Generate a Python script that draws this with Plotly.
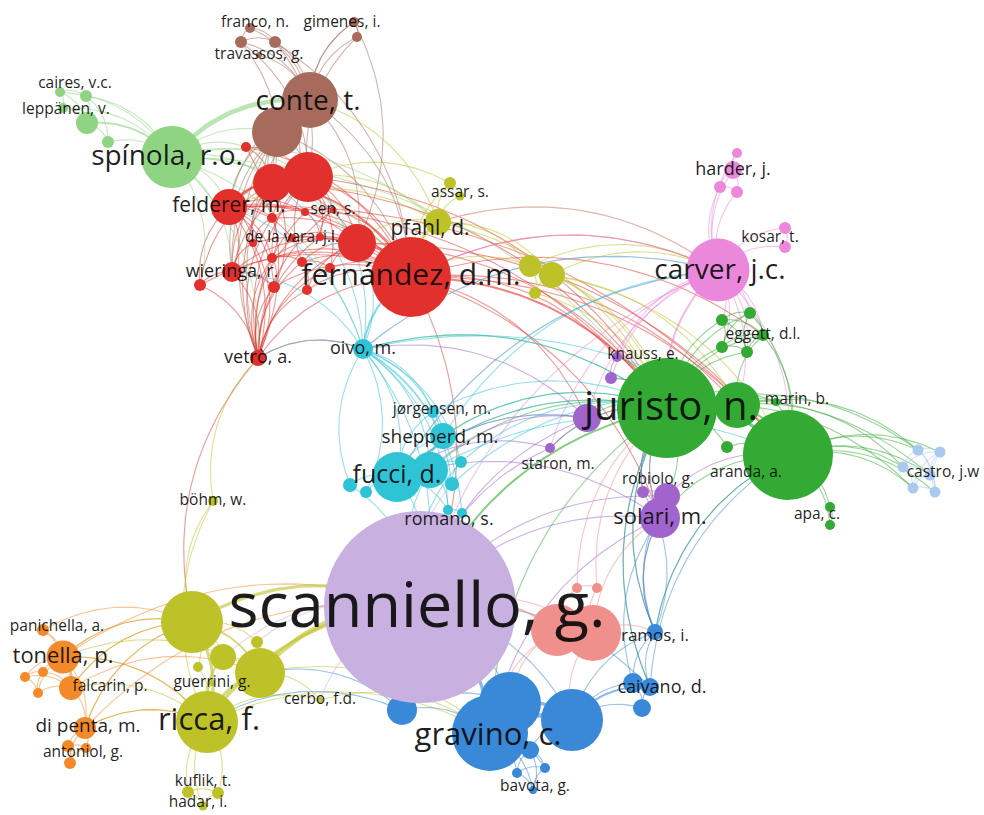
import numpy as np
import plotly.graph_objects as go

# ------------------------------------------------------------------
# DATA  (VOSviewer-style co-authorship map: node map coordinates,
#        node weight, cluster, and co-authorship links)
# ------------------------------------------------------------------
node_ids = [
    "fern", "feld", "sen", "dlv", "wier", "vetro", "r1", "r2", "r3", "r4", "r5", "r6", "r7", "r8", "r9", "r10", "r11", "r12", "r13", "r14",
    "conte", "b1", "trav", "tr1", "tr2", "franco", "gim", "gim2",
    "spin", "caires", "lg1", "lepp", "lg2", "lg3",
    "pfahl", "assar", "as2", "o1", "o2", "o3", "ricca", "y1", "y2", "y3", "y4", "y5", "guerr", "cerbo", "bohm", "kuflik", "ku2", "hadar",
    "tonella", "panich", "falc", "or1", "or2", "or3", "dipenta", "anton", "an2", "an3",
    "oivo", "fucci", "c1", "shep", "jorg", "c2", "c3", "c4", "c5", "romano", "c6",
    "solari", "p1", "robiolo", "p2", "knauss", "p3", "staron",
    "juristo", "g1", "g2", "marin", "aranda", "apa", "apa2", "egg", "e1", "e2", "e3", "e4",
    "carver", "harder", "h1", "h2", "h3", "kosar", "k2",
    "castro", "cb1", "cb2", "cb3", "cb4", "cb5",
    "s1", "s2", "s3", "s4",
    "gravino", "bl1", "bl2", "bl3", "bl4", "ramos", "caivano", "ca2", "ca3", "bavota", "bv2", "bv3",
    "scan",
]

node_x = [
    411, 229, 333, 292, 232, 258, 308, 272, 357, 246, 200, 272, 272, 302, 274, 307, 330, 253, 320, 305,
    310, 277, 259, 241, 275, 250, 354, 357,
    172, 60, 86, 63, 87, 108,
    438, 450, 460, 530, 552, 535, 207, 192, 260, 223, 257, 198, 212, 320, 213, 188, 218, 203,
    63, 43, 71, 25, 43, 38, 85, 68, 70, 86,
    363, 397, 430, 443, 433, 350, 366, 452, 461, 448, 462,
    660, 667, 643, 587, 617, 611, 550,
    667, 737, 788, 776, 727, 830, 830, 763, 722, 750, 722, 747,
    718, 733, 737, 720, 737, 785, 785,
    930, 918, 940, 903, 913, 935,
    557, 593, 577, 597,
    490, 510, 572, 402, 530, 655, 650, 633, 642, 517, 545, 533,
    420,
]

node_y = [
    277, 207, 210, 238, 272, 358, 177, 183, 243, 147, 285, 218, 258, 262, 287, 290, 268, 243, 237, 212,
    100, 132, 55, 42, 42, 28, 22, 37,
    157, 92, 96, 108, 123, 142,
    222, 183, 196, 266, 275, 293, 722, 622, 673, 657, 642, 667, 683, 700, 501, 792, 793, 806,
    657, 630, 688, 677, 672, 693, 728, 746, 763, 748,
    349, 477, 470, 436, 412, 485, 492, 484, 462, 510, 513,
    518, 496, 492, 418, 357, 378, 448,
    408, 405, 455, 402, 447, 507, 525, 335, 320, 313, 347, 352,
    270, 170, 153, 187, 192, 228, 247,
    475, 450, 452, 467, 488, 492,
    630, 633, 588, 588,
    733, 703, 720, 710, 750, 632, 687, 683, 708, 773, 768, 790,
    607,
]

node_weight = [
    80, 36, 7, 8, 20, 16, 50, 38, 38, 10, 12, 10, 10, 10, 12, 10, 10, 8, 8, 8,
    56, 50, 6, 12, 12, 10, 10, 10,
    62, 10, 12, 10, 22, 12,
    26, 12, 9, 22, 26, 12, 62, 62, 50, 26, 12, 10, 6, 6, 10, 12, 12, 9,
    33, 12, 24, 10, 10, 10, 22, 12, 12, 10,
    20, 50, 36, 26, 12, 14, 12, 14, 12, 10, 10,
    40, 26, 12, 28, 10, 12, 10,
    100, 46, 90, 8, 12, 10, 10, 12, 12, 12, 12, 12,
    63, 18, 10, 12, 12, 12, 12,
    11, 11, 11, 11, 11, 11,
    52, 56, 10, 10,
    76, 62, 62, 30, 18, 16, 18, 20, 18, 10, 10, 8,
    192,
]

node_cluster = (
    ["R"] * 20 + ["N"] * 8 + ["L"] * 6 + ["O"] * 18 + ["A"] * 10 + ["C"] * 11 +
    ["P"] * 7 + ["G"] * 12 + ["K"] * 7 + ["B"] * 6 + ["S"] * 4 + ["U"] * 12 + ["V"]
)

node_labels = {
    "fern": "fernández, d.m.", "feld": "felderer, m.", "sen": "sen, s.", "dlv": "de la vara, j.l.",
    "wier": "wieringa, r.", "vetro": "vetrò, a.", "conte": "conte, t.", "trav": "travassos, g.",
    "franco": "franco, n.", "gim": "gimenes, i.", "spin": "spínola, r.o.", "caires": "caires, v.c.",
    "lepp": "leppänen, v.", "pfahl": "pfahl, d.", "assar": "assar, s.", "ricca": "ricca, f.",
    "guerr": "guerrini, g.", "cerbo": "cerbo, f.d.", "bohm": "böhm, w.", "kuflik": "kuflik, t.",
    "hadar": "hadar, i.", "tonella": "tonella, p.", "panich": "panichella, a.", "falc": "falcarin, p.",
    "dipenta": "di penta, m.", "anton": "antoniol, g.", "oivo": "oivo, m.", "fucci": "fucci, d.",
    "shep": "shepperd, m.", "jorg": "jørgensen, m.", "romano": "romano, s.", "solari": "solari, m.",
    "robiolo": "robiolo, g.", "knauss": "knauss, e.", "staron": "staron, m.", "juristo": "juristo, n.",
    "marin": "marin, b.", "aranda": "aranda, a.", "apa": "apa, c.", "egg": "eggett, d.l.",
    "carver": "carver, j.c.", "harder": "harder, j.", "kosar": "kosar, t.", "castro": "castro, j.w",
    "gravino": "gravino, c.", "ramos": "ramos, i.", "caivano": "caivano, d.", "bavota": "bavota, g.",
    "scan": "scanniello, g.",
}

links = """
fern: feld r1 r2*2 r3*2 wier vetro r5 r6 r7 r8 r9 r10 r11 r12 r13 r14 sen dlv r4 juristo*2 g1 g2 carver p2 knauss egg solari scan
feld: r1*2 r2*2 r3 wier vetro r5 r6 r7 r9 r12 r14 dlv juristo g2
r1: r2*2 r3 wier vetro r6 r7 r8 r11 r13 sen r4 juristo
r2: r3 wier vetro r9 r12 r4 r5 juristo
r3: wier vetro r7 r8 r10 r11 dlv juristo g2
wier: vetro r5 r9 r12
vetro: r5 r6 r7 r8 r9 r10 r11 r12 r13 r14 sen dlv r4 y1 oivo
r6: r7 r12 r14
r7: r9 r8
r8: r10 r11
r13: r14 sen
conte: b1*3 r1 r2 fern feld r3 trav tr1 tr2 franco gim gim2 vetro wier
b1: r1 r2 feld fern vetro wier r6
tr1: tr2 franco r1 r2
tr2: franco r1 fern
gim: gim2 r3 conte
gim2: r1
spin: conte*4 b1 r1 r2 feld fern r3 wier vetro r5 r4 caires lg1 lepp lg2*2 lg3 juristo pfahl oivo
caires: lg1 lepp lg2
lg1: lg2 lg3
lepp: lg2
lg2: lg3
pfahl: fern*3 r1 r3 assar as2 o1 o2 conte feld juristo carver
assar: as2 fern r1
o1: o2*2 o3 fern juristo carver
o2: o3 carver juristo g1 g2
o3: juristo
carver: juristo*2 g1 g2 egg e1 e2 e3 e4 harder h1 h2 h3 kosar k2 fern p2 knauss p3 staron oivo fucci pfahl scan
harder: h1 h2 h3
h2: h3
kosar: k2
juristo: g1*3 g2*3 marin aranda egg e1 e2 e3 e4 castro cb1 cb4 p2 p3 knauss staron solari robiolo p1 scan*2 fucci c1 shep oivo ramos caivano gravino
g1: g2*2 marin egg cb1 cb3
g2: marin aranda apa apa2 egg e2 castro cb1 cb2 cb3 cb4 cb5 solari ramos
apa: apa2
egg: e1 e2 e3 e4
e1: e2 e3 e4
e2: e3 e4
e3: e4
castro: cb1 cb2 cb3 cb4 cb5
cb1: cb2 cb3 cb5
cb2: cb3 cb4 cb5
cb3: cb4
cb4: cb5
oivo: fucci c1 shep jorg c2 c3 c4 c5 romano c6 fern*2 r3 r1 feld vetro wier r2 scan juristo g2 carver
fucci: c1*2 shep jorg c2 c3 romano scan juristo carver p2
c1: shep c4 c5 romano scan g2
shep: jorg juristo carver
jorg: juristo
c4: c5 g1
c5: juristo scan
c2: scan
romano: c6
solari: p1*2 robiolo scan juristo fucci gravino ramos
p1: robiolo scan g2
p2: scan fucci c1 oivo
knauss: p3
p3: juristo
staron: scan juristo fucci
robiolo: juristo
gravino: bl1*4 bl2*4 bl3 bl4 bavota bv2 bv3 scan*3
bl1: bl2*3 bl3 scan
bl2: bl4 scan
bl4: bavota bv2 bv3
bavota: bv2 bv3
bv2: bv3
ramos: bl2 caivano ca2 juristo solari g2 p1 robiolo
caivano: ca2 ca3 bl2*2 g2 scan juristo
ca2: ca3 bl2 solari
ca3: bl2
bl3: scan ricca y2
s1: s2*3 scan*2 gravino bl1
s2: scan bl2 solari ramos
s3: s1 s4 juristo
s4: s2 juristo
scan: y3 y4 cerbo romano c4 c6
ricca: scan*3 y1*3 y2*3 y3*2 y5 guerr kuflik ku2 hadar cerbo tonella dipenta falc gravino
y1: scan*3 y2*2 y3 y4 y5 tonella falc dipenta
y2: scan*4 y3 y4 cerbo tonella gravino
kuflik: ku2 hadar
ku2: hadar
bohm: vetro y1 ricca
cerbo: gravino
tonella: panich falc*2 or1 or2 or3 dipenta y1 ricca scan
falc: or1 or2 or3 panich dipenta y1 y2
or1: or2 or3
or2: or3
dipenta: anton an2 an3 y1 ricca scan
anton: an2 an3
an2: an3
panich: y1
"""

# ------------------------------------------------------------------
# STYLE
# ------------------------------------------------------------------
cluster_color = {
    "R": (226, 49, 45), "N": (166, 107, 92), "L": (143, 212, 131), "O": (188, 194, 40),
    "A": (243, 138, 42), "C": (47, 195, 214), "P": (160, 100, 204), "G": (51, 170, 51),
    "K": (236, 136, 220), "B": (169, 201, 239), "S": (240, 144, 140), "U": (58, 136, 216),
    "V": (200, 177, 224),
}
label_size = {
    "scan": 63, "juristo": 40, "fern": 30, "gravino": 31, "ricca": 31, "carver": 28, "conte": 28,
    "spin": 28, "fucci": 25, "solari": 22, "tonella": 22, "pfahl": 21, "feld": 21, "shep": 19,
    "dipenta": 19, "romano": 18, "oivo": 18, "vetro": 18, "wier": 18, "harder": 18,
    "ramos": 17, "caivano": 18,
}
label_shift = {
    "spin": (-5, 1), "caires": (15, -8), "lepp": (3, 2), "conte": (-2, 3), "franco": (5, -5),
    "gim": (-12, 1), "pfahl": (-8, 8), "assar": (10, 10), "kosar": (-15, 10), "knauss": (26, -2),
    "marin": (21, -2), "jorg": (9, -2), "staron": (8, 17), "castro": (13, -2), "robiolo": (15, -12),
    "aranda": (19, 26), "apa": (-13, 8), "romano": (1, 10), "scan": (-3, 4), "panich": (14, -3),
    "ramos": (0, 5), "falc": (39, -1), "caivano": (12, 1), "anton": (15, 7), "bavota": (18, 14),
    "kuflik": (15, -10), "hadar": (-5, -3), "juristo": (4, 2), "carver": (2, 2), "shep": (-3, 2),
    "dipenta": (3, -1), "ricca": (2, 0), "gravino": (-2, 4),
}
line_width = {1: 1.1, 2: 2.0, 3: 3.2, 4: 4.6}

# ------------------------------------------------------------------
idx = {n: i for i, n in enumerate(node_ids)}

edge_from, edge_to, edge_strength = [], [], []
for row in links.strip().splitlines():
    src, rest = row.split(":")
    for tok in rest.split():
        t, w = (tok.split("*") + ["1"])[:2]
        edge_from.append(src.strip())
        edge_to.append(t)
        edge_strength.append(int(w))


def curve(a, b, k=0.25, n=32):
    x0, y0 = node_x[idx[a]], node_y[idx[a]]
    x2, y2 = node_x[idx[b]], node_y[idx[b]]
    if x2 < x0:  # orient left -> right, bend counter-clockwise
        x0, y0, x2, y2 = x2, y2, x0, y0
    dx, dy = x2 - x0, y2 - y0
    cx = (x0 + x2) / 2 + k * dy
    cy = (y0 + y2) / 2 - k * dx
    t = np.linspace(0, 1, n)
    bx = (1 - t) ** 2 * x0 + 2 * (1 - t) * t * cx + t ** 2 * x2
    by = (1 - t) ** 2 * y0 + 2 * (1 - t) * t * cy + t ** 2 * y2
    return bx, by


fig = go.Figure()

groups = {}
for a, b, w in zip(edge_from, edge_to, edge_strength):
    groups.setdefault((node_cluster[idx[a]], w), []).append((a, b))

for (cl, w), pairs in sorted(groups.items(), key=lambda kv: kv[0][1]):
    xs, ys = [], []
    for a, b in pairs:
        bx, by = curve(a, b)
        xs.extend(bx.tolist() + [None])
        ys.extend(by.tolist() + [None])
    r, g, bb = cluster_color[cl]
    alpha = 0.5 if w == 1 else 0.6
    fig.add_trace(go.Scatter(
        x=xs, y=ys, mode="lines",
        line=dict(color=f"rgba({r},{g},{bb},{alpha})", width=line_width[w]),
        hoverinfo="skip", showlegend=False,
    ))

order = sorted(range(len(node_ids)), key=lambda i: node_weight[i])
fig.add_trace(go.Scatter(
    x=[node_x[i] for i in order], y=[node_y[i] for i in order], mode="markers",
    marker=dict(
        size=[node_weight[i] for i in order],
        color=["rgb(%d,%d,%d)" % cluster_color[node_cluster[i]] for i in order],
        line=dict(width=0), opacity=1,
    ),
    hoverinfo="skip", showlegend=False,
))

lab_ids = [n for n in node_ids if n in node_labels]
fig.add_trace(go.Scatter(
    x=[node_x[idx[n]] + label_shift.get(n, (0, 0))[0] for n in lab_ids],
    y=[node_y[idx[n]] + label_shift.get(n, (0, 0))[1] for n in lab_ids],
    mode="text", text=[node_labels[n] for n in lab_ids], textposition="middle center",
    textfont=dict(family="Open Sans", size=[label_size.get(n, 15.5) for n in lab_ids], color="rgba(10,10,10,0.92)"),
    hoverinfo="skip", showlegend=False,
))

fig.update_xaxes(range=[0, 984], visible=False, fixedrange=True)
fig.update_yaxes(range=[815, 0], visible=False, fixedrange=True)
fig.update_layout(
    width=984, height=815, margin=dict(l=0, r=0, t=0, b=0),
    paper_bgcolor="white", plot_bgcolor="white", showlegend=False,
)
fig.write_html("out.html", config={"displayModeBar": False})
